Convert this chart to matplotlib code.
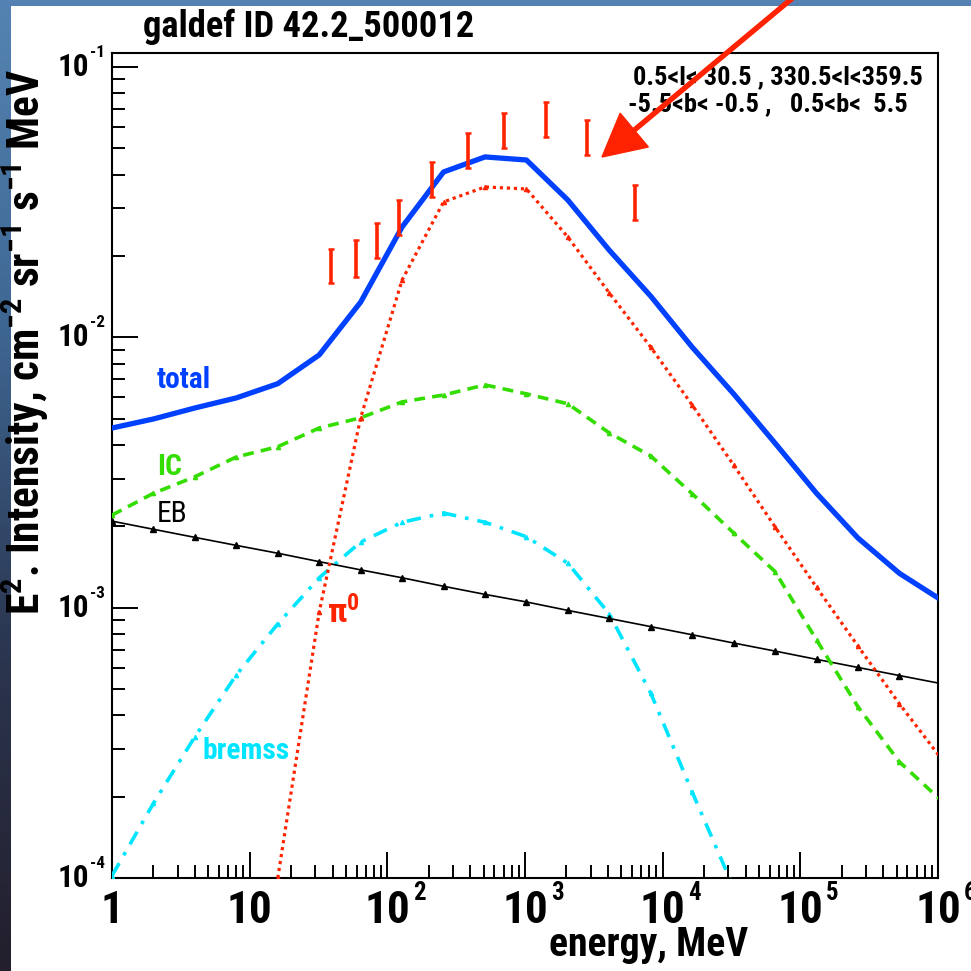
import numpy as np
import matplotlib
matplotlib.use('Agg')
import matplotlib.pyplot as plt
from matplotlib import font_manager as fm
from matplotlib.colors import LinearSegmentedColormap
from matplotlib.patches import Rectangle, FancyArrow
from matplotlib.ticker import FixedLocator, LogLocator, NullFormatter
from matplotlib.transforms import blended_transform_factory, offset_copy

# model grid, MeV
energy = [1, 2, 4, 8, 16, 32, 64, 128, 256, 512, 1024, 2048, 4096, 8192,
          16384, 32768, 65536, 131072, 262144, 524288, 1048576]

total = [4.62e-3, 4.99e-3, 5.48e-3, 5.97e-3, 6.74e-3, 8.61e-3, 1.35e-2, 2.56e-2,
         4.09e-2, 4.65e-2, 4.53e-2, 3.22e-2, 2.10e-2, 1.42e-2, 9.20e-3, 6.18e-3,
         4.06e-3, 2.65e-3, 1.81e-3, 1.34e-3, 1.07e-3]

pi0_energy = [16, 32, 64, 128, 256, 512, 1024, 2048, 4096, 8192, 16384, 32768,
              65536, 131072, 262144, 524288, 1048576]
pi0 = [1.0e-4, 9.64e-4, 5.04e-3, 1.63e-2, 3.17e-2, 3.60e-2, 3.54e-2, 2.35e-2,
       1.46e-2, 9.20e-3, 5.62e-3, 3.37e-3, 1.99e-3, 1.19e-3, 7.21e-4, 4.41e-4, 2.78e-4]

ic = [2.20e-3, 2.65e-3, 3.05e-3, 3.61e-3, 3.94e-3, 4.62e-3, 5.04e-3, 5.77e-3,
      6.12e-3, 6.67e-3, 6.18e-3, 5.68e-3, 4.43e-3, 3.64e-3, 2.64e-3, 1.89e-3,
      1.36e-3, 7.60e-4, 4.30e-4, 2.69e-4, 1.94e-4]

eb = [2.09e-3, 1.95e-3, 1.82e-3, 1.70e-3, 1.59e-3, 1.48e-3, 1.38e-3, 1.29e-3,
      1.20e-3, 1.12e-3, 1.05e-3, 9.77e-4, 9.12e-4, 8.51e-4, 7.94e-4, 7.40e-4,
      6.91e-4, 6.44e-4, 6.01e-4, 5.61e-4, 5.24e-4]

brem_energy = [1, 2, 4, 8, 16, 32, 64, 128, 256, 512, 1024, 2048, 4096, 8192,
               16384, 32768]
bremss = [1.02e-4, 1.89e-4, 3.33e-4, 5.64e-4, 8.71e-4, 1.29e-3, 1.75e-3, 2.07e-3,
          2.24e-3, 2.07e-3, 1.83e-3, 1.46e-3, 9.48e-4, 4.83e-4, 2.08e-4, 9.2e-5]

# EGRET data, bin centres and error range
data_energy = [38.7, 59.2, 83.7, 122.5, 212.1, 387.3, 707.1, 1414, 2828, 6325]
data_lo = [1.59e-2, 1.67e-2, 1.97e-2, 2.39e-2, 3.30e-2, 4.24e-2, 5.02e-2, 5.51e-2, 4.73e-2, 2.72e-2]
data_hi = [2.12e-2, 2.29e-2, 2.65e-2, 3.22e-2, 4.45e-2, 5.70e-2, 6.76e-2, 7.43e-2, 6.37e-2, 3.66e-2]

xtick_vals = [1, 10, 1e2, 1e3, 1e4, 1e5, 1e6]
xtick_base = ['1', '10', '10', '10', '10', '10', '10']
xtick_exp = ['', '', '2', '3', '4', '5', '6']
ytick_vals = [1e-4, 1e-3, 1e-2, 1e-1]
ytick_exp = ['-4', '-3', '-2', '-1']


def have_font(name):
    try:
        fm.findfont(fm.FontProperties(family=name, weight='bold'), fallback_to_default=False)
        return True
    except Exception:
        return False


narrow = next((f for f in ['Liberation Sans Narrow', 'Roboto Condensed'] if have_font(f)), None)
font = narrow if narrow else 'Liberation Sans'
k = 1.12 if narrow else 1.0

plt.rcParams['font.family'] = [font, 'DejaVu Sans']
plt.rcParams['font.weight'] = 'bold'
plt.rcParams['mathtext.fontset'] = 'custom'
plt.rcParams['mathtext.rm'] = font + ':bold'
plt.rcParams['mathtext.bf'] = font + ':bold'
plt.rcParams['mathtext.it'] = font + ':bold'
plt.rcParams['mathtext.default'] = 'rm'

W = 971.0
fig = plt.figure(figsize=(9.71, 9.71), dpi=100)

# background: blue strip with a white page on it
bg = fig.add_axes([0, 0, 1, 1], zorder=-10)
bg.axis('off')
cmap = LinearSegmentedColormap.from_list('bgc', ['#5483b3', '#3f6793', '#2b3650', '#231f2c'])
grad = np.linspace(0, 1, 256).reshape(-1, 1)
bg.imshow(grad, aspect='auto', cmap=cmap, extent=[0, 1, 0, 1], origin='upper')
bg.add_patch(Rectangle((11 / W, 0), 1, 1 - 6 / W, facecolor='white', edgecolor='none'))
bg.set_xlim(0, 1)
bg.set_ylim(0, 1)

ax = fig.add_axes([112 / W, 93 / W, 826 / W, 825 / W])
ax.set_xscale('log')
ax.set_yscale('log')

ax.plot(brem_energy, bremss, color='#00e5ff', lw=2.6, ls=(0, (4, 2.5, 1, 2.5)),
        marker='^', ms=3, zorder=3)
ax.plot(energy, eb, color='black', lw=1.2, marker='^', ms=4, zorder=3)
ax.plot(energy, ic, color='#33dd00', lw=2.6, ls=(0, (3, 2)), marker='^', ms=3, zorder=3)
ax.plot(pi0_energy, pi0, color='#ff2400', lw=2.3, ls=(0, (1, 1.2)), marker='^', ms=3, zorder=4)
ax.plot(energy, total, color='#0040ff', lw=3.8, zorder=5)

mid = np.sqrt(np.array(data_lo) * np.array(data_hi))
err = [mid - np.array(data_lo), np.array(data_hi) - mid]
ax.errorbar(data_energy, mid, yerr=err, fmt='none', ecolor='#ff2400', elinewidth=2.6,
            capsize=2.5, capthick=1.8, zorder=6)

ax.set_xlim(1, 1e6)
ax.set_ylim(1e-4, 0.1127)

ax.xaxis.set_major_locator(FixedLocator(xtick_vals))
ax.yaxis.set_major_locator(FixedLocator(ytick_vals))
ax.xaxis.set_minor_locator(LogLocator(base=10, subs=np.arange(2, 10), numticks=20))
ax.yaxis.set_minor_locator(LogLocator(base=10, subs=np.arange(2, 10), numticks=20))
ax.set_xticklabels([])
ax.set_yticklabels([])
ax.xaxis.set_minor_formatter(NullFormatter())
ax.yaxis.set_minor_formatter(NullFormatter())
ax.tick_params(which='both', direction='in', top=False, right=False, width=1.4, color='black')
ax.tick_params(which='major', length=19)
ax.tick_params(which='minor', length=9.5)
for s in ax.spines.values():
    s.set_linewidth(1.5)

# ROOT-style tick labels: "10" with a small exponent
xtr = blended_transform_factory(ax.transData, ax.transAxes)
ytr = blended_transform_factory(ax.transAxes, ax.transData)
xbase = []
for v, b in zip(xtick_vals, xtick_base):
    xbase.append(ax.text(v, 0, b, transform=offset_copy(xtr, fig=fig, x=0, y=-12, units='dots'),
                         ha='center', va='top', fontsize=29 * k, fontweight='bold', clip_on=False))
ybase = []
for v in ytick_vals:
    ybase.append(ax.text(0, v, '10', transform=offset_copy(ytr, fig=fig, x=-23, y=0, units='dots'),
                         ha='right', va='center', fontsize=20 * k, fontweight='bold'))
fig.canvas.draw()
ren = fig.canvas.get_renderer()
for t, e in zip(xbase, xtick_exp):
    if e:
        bb = t.get_window_extent(ren)
        fig.text((bb.x1 + 3) / W, (bb.y1 + 9) / W, e, ha='left', va='top',
                 fontsize=16 * k, fontweight='bold')
for t, e in zip(ybase, ytick_exp):
    bb = t.get_window_extent(ren)
    fig.text((bb.x1 + 1) / W, (bb.y1 + 7) / W, e, ha='left', va='top',
             fontsize=11 * k, fontweight='bold')

ax.set_xlabel('energy, MeV', fontsize=25.5 * k, fontweight='bold')
ax.xaxis.set_label_coords(0.649, -0.058)
ax.set_ylabel(r'E$^{2}$. Intensity, cm$^{-2}$ sr$^{-1}$ s$^{-1}$ MeV', fontsize=28 * k,
              fontweight='bold')
ax.yaxis.set_label_coords(-0.0739, 0.65)

fig.text(143 / W, 1 - 27 / W, 'galdef ID 42.2_500012', fontsize=23.5 * k, fontweight='bold',
         ha='left', va='center')
fig.text(633 / W, 1 - 77 / W, '0.5<l< 30.5 , 330.5<l<359.5', fontsize=17 * k, fontweight='bold',
         ha='left', va='center')
fig.text(628 / W, 1 - 104 / W, '-5.5<b< -0.5 ,   0.5<b<  5.5', fontsize=17 * k, fontweight='bold',
         ha='left', va='center')

ax.text(2.12, 6.95e-3, 'total', color='#0040ff', fontsize=19 * k, fontweight='bold', va='center')
ax.text(2.12, 3.32e-3, 'IC', color='#33dd00', fontsize=19 * k, fontweight='bold', va='center')
ax.text(2.12, 2.22e-3, 'EB', color='black', fontsize=19 * k, fontweight='normal', va='center')
ax.text(36.3, 9.6e-4, r'$\pi^{0}$', color='#ff2400', fontsize=22 * k, va='center')
ax.text(4.57, 2.95e-4, 'bremss', color='#00e5ff', fontsize=19 * k, fontweight='bold', va='center')

arrow = FancyArrow(795 / W, 1 + 4 / W, (602 - 795) / W, -(157 + 4) / W, width=4 / W,
                   head_width=44 / W, head_length=42 / W, length_includes_head=True,
                   color='#ff2200', transform=fig.transFigure, zorder=20)
fig.add_artist(arrow)

fig.savefig('out.png', dpi=100)
